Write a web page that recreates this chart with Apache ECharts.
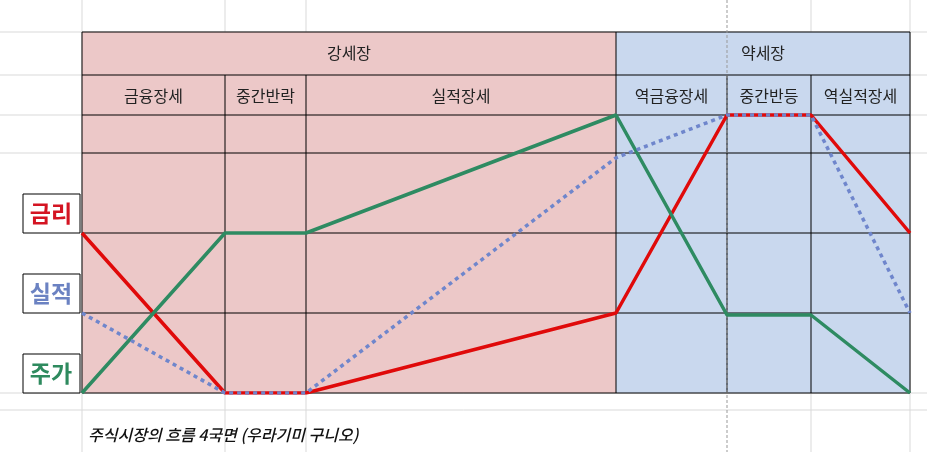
<!DOCTYPE html>
<html>
<head>
<meta charset="utf-8">
<script src="https://cdn.jsdelivr.net/npm/echarts@6/dist/echarts.min.js"></script>
<style>html,body{margin:0;padding:0;background:#fff;}#main{width:927px;height:452px;}</style>
</head>
<body>
<div id="main"></div>
<script>
// 국면 경계 (x 위치) 와 각 선의 수준
var phaseX = [0, 143, 224, 534, 645, 729, 828];
var rate = [2, 0, 0, 1, 3.475, 3.475, 2];          // 금리
var earnings = [1, 0, 0, 2.94, 3.475, 3.475, 1];    // 실적
var price = [0, 2, 2, 3.475, 0.975, 0.975, 0];      // 주가
var bullLabel = '강세장', bearLabel = '약세장';
var phaseLabels = ['금융장세', '중간반락', '실적장세', '역금융장세', '중간반등', '역실적장세'];

function pairs(ys) { return phaseX.map(function (x, i) { return [x, ys[i]]; }); }

var chart = echarts.init(document.getElementById('main'));
var font = '"Noto Sans CJK KR", sans-serif';
var L = 82, R = 910, T = 32, B = 393;
var colX = [82, 225, 306, 616, 727, 811, 910];
var rowY = [75, 115, 153, 233, 313];

var g = [];
// 스프레드시트 회색 격자
[32, 75, 115, 153, 393, 410].forEach(function (y) {
    g.push({type: 'line', shape: {x1: 0, y1: y, x2: 927, y2: y}, style: {stroke: '#d9d9d9', lineWidth: 1}, z: 0});
});
[82, 225, 306, 811, 910].forEach(function (x) {
    g.push({type: 'line', shape: {x1: x, y1: 0, x2: x, y2: 452}, style: {stroke: '#d9d9d9', lineWidth: 1}, z: 0});
});
g.push({type: 'line', shape: {x1: 727, y1: 0, x2: 727, y2: 452}, style: {stroke: '#999', lineWidth: 1, lineDash: [3, 2]}, z: 5});
// 배경
g.push({type: 'rect', shape: {x: L, y: T, width: 616 - L, height: B - T}, style: {fill: '#ECC8C8'}, z: 1});
g.push({type: 'rect', shape: {x: 616, y: T, width: R - 616, height: B - T}, style: {fill: '#C9D8EE'}, z: 1});
// 표 테두리
g.push({type: 'rect', shape: {x: L, y: T, width: R - L, height: B - T}, style: {fill: 'none', stroke: '#000', lineWidth: 1}, z: 3});
rowY.forEach(function (y) {
    g.push({type: 'line', shape: {x1: L, y1: y, x2: R, y2: y}, style: {stroke: '#000', lineWidth: 1}, z: 3});
});
[225, 306, 727, 811].forEach(function (x) {
    g.push({type: 'line', shape: {x1: x, y1: 75, x2: x, y2: B}, style: {stroke: '#000', lineWidth: 1}, z: 3});
});
g.push({type: 'line', shape: {x1: 616, y1: T, x2: 616, y2: B}, style: {stroke: '#000', lineWidth: 1}, z: 3});
// 헤더
function txt(s, x, y, opt) {
    var st = {text: s, x: x, y: y, fill: '#222', font: '16px ' + font, align: 'center', verticalAlign: 'middle'};
    for (var k in opt) st[k] = opt[k];
    g.push({type: 'text', style: st, z: 6});
}
txt(bullLabel, (L + 616) / 2, 53);
txt(bearLabel, (616 + R) / 2, 53);
phaseLabels.forEach(function (s, i) { txt(s, (colX[i] + colX[i + 1]) / 2, 96); });
// 왼쪽 라벨 상자
[['금리', 213, '#D41422'], ['실적', 293, '#6B82C2'], ['주가', 373, '#2E8A5E']].forEach(function (a) {
    g.push({type: 'rect', shape: {x: 23, y: a[1] - 19, width: 57, height: 39}, style: {fill: '#fff', stroke: '#000', lineWidth: 1}, z: 3});
    txt(a[0], 51, a[1], {fill: a[2], font: 'bold 23px ' + font});
});
txt('주식시장의 흐름 4국면 (우라기미 구니오)', 88, 435, {align: 'left', font: 'italic 500 16px ' + font, fill: '#111'});

chart.setOption({
    animation: false,
    grid: {left: L, right: 927 - R, top: T, bottom: 452 - B},
    xAxis: {type: 'value', min: 0, max: 828, show: false},
    yAxis: {type: 'value', min: 0, max: 4.5125, show: false},
    graphic: g,
    series: [
        {name: '금리', type: 'line', data: pairs(rate), symbol: 'none', z: 10,
            lineStyle: {color: '#E00A0A', width: 3.5}},
        {name: '주가', type: 'line', data: pairs(price), symbol: 'none', z: 10,
            lineStyle: {color: '#2E8B62', width: 3.5}},
        {name: '실적', type: 'line', data: pairs(earnings), symbol: 'none', z: 11,
            lineStyle: {color: '#6F86CC', width: 3.5, type: [4, 4]}}
    ]
});
</script>
</body>
</html>
